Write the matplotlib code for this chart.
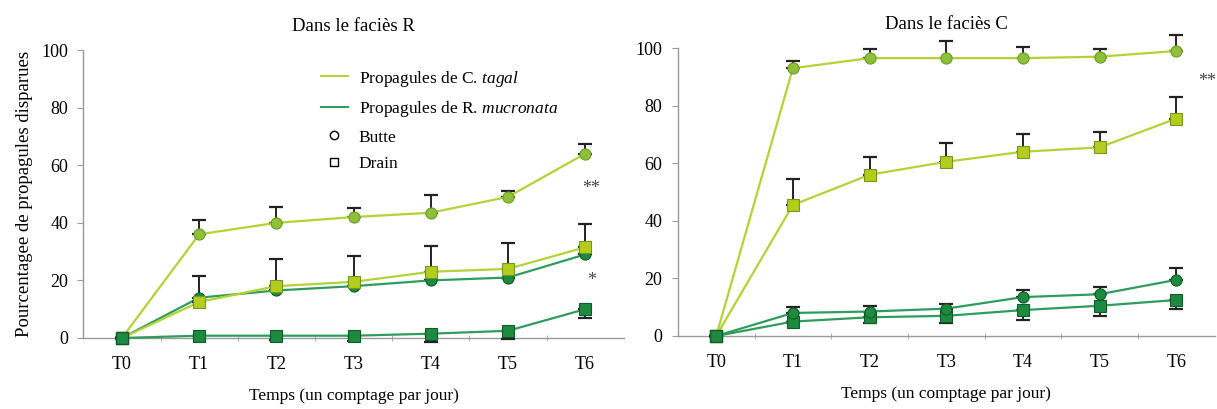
import matplotlib
matplotlib.use("Agg")
import matplotlib.pyplot as plt
from matplotlib.lines import Line2D
import numpy as np

plt.rcParams['font.family'] = ['Liberation Serif', 'DejaVu Serif']
plt.rcParams['mathtext.fontset'] = 'custom'
plt.rcParams['mathtext.rm'] = 'Liberation Serif'
plt.rcParams['mathtext.it'] = 'Liberation Serif:italic'

times = ["T0", "T1", "T2", "T3", "T4", "T5", "T6"]

# Faciès R
R_tagal_butte = [0, 36, 40, 42, 43.5, 49, 64]
R_tagal_butte_err = [0, 5, 5.5, 3, 6, 2, 3.5]
R_tagal_drain = [0, 12.5, 18, 19.5, 23, 24, 31.5]
R_tagal_drain_err = [0, 0, 9.5, 9, 9, 9, 8]
R_mucro_butte = [0, 14, 16.5, 18, 20, 21, 29]
R_mucro_butte_err = [0, 7.5, 0, 0, 0, 0, 0]
R_mucro_drain = [0, 0.8, 0.8, 0.8, 1.5, 2.5, 10]
R_mucro_drain_err = [0, 0, 1.5, 2, 3, 3, 3]

# Faciès C
C_tagal_butte = [0, 93, 96.5, 96.5, 96.5, 97, 99]
C_tagal_butte_err = [0, 2.5, 3, 6, 4, 2.5, 5.5]
C_tagal_drain = [0, 45.5, 56, 60.5, 64, 65.5, 75.5]
C_tagal_drain_err = [0, 9, 6, 6.5, 6, 5.5, 7.5]
C_mucro_butte = [0, 8, 8.5, 9.5, 13.5, 14.5, 19.5]
C_mucro_butte_err = [0, 2, 2, 1.5, 2.5, 2.5, 4]
C_mucro_drain = [0, 5, 6.5, 7, 9, 10.5, 12.5]
C_mucro_drain_err = [0, 0, 2, 2.5, 3.5, 3.5, 3]

light_line = '#b2d235'
light_face_c = '#8fc03a'
light_face_s = '#b5cc1c'
light_edge = '#6f9a22'
dark_line = '#2f9c5e'
dark_face = '#1d8a40'
dark_edge = '#0e5a28'

fig = plt.figure(figsize=(12.17, 4.09), dpi=100)
axL = fig.add_axes([0.0685, 0.1736, 0.444, 0.704])
axR = fig.add_axes([0.557, 0.1785, 0.441, 0.704])

x = np.arange(len(times))


def draw(ax, series):
    for vals, err, up, color, face, marker, z in series:
        vals = np.array(vals, float)
        err = np.array(err, float)
        yerr = [np.zeros_like(err), err] if up else [err, np.zeros_like(err)]
        ax.errorbar(x, vals, yerr=yerr, fmt='none', ecolor='#222222',
                    elinewidth=1.4, capsize=5, capthick=1.6, zorder=z - 1,
                    clip_on=False)
        ax.plot(x, vals, '-', color=color, lw=1.6, zorder=z, clip_on=False)
        ax.plot(x, vals, marker, ms=8, mfc=face, mec=dark_edge if face == dark_face else light_edge,
                mew=0.8, ls='none', zorder=z + 0.5, clip_on=False)


def style(ax, title):
    ax.set_xlim(-0.5, 6.5)
    ax.set_ylim(0, 100)
    for s in ['top', 'right']:
        ax.spines[s].set_visible(False)
    for s in ['left', 'bottom']:
        ax.spines[s].set_color('#999999')
        ax.spines[s].set_linewidth(1.0)
    ax.set_xticks(x)
    ax.set_xticklabels(times, fontsize=13)
    ax.set_xticks(np.arange(0.5, 6.5, 1), minor=True)
    ax.tick_params(axis='x', which='major', length=0, pad=13)
    ax.tick_params(axis='x', which='minor', length=5, color='#999999', direction='inout')
    ax.set_yticks([0, 20, 40, 60, 80, 100])
    ax.tick_params(axis='y', length=4, color='#999999', labelsize=13, pad=7)
    ax.set_xlabel("Temps (un comptage par jour)", fontsize=12.5, labelpad=11)
    ax.set_title(title, fontsize=13.5, pad=14)


draw(axL, [
    (R_mucro_drain, R_mucro_drain_err, False, dark_line, dark_face, 's', 4),
    (R_mucro_butte, R_mucro_butte_err, True, dark_line, dark_face, 'o', 6),
    (R_tagal_drain, R_tagal_drain_err, True, light_line, light_face_s, 's', 8),
    (R_tagal_butte, R_tagal_butte_err, True, light_line, light_face_c, 'o', 10),
])
axL.plot([0], [0], 's', ms=8, mfc=dark_face, mec=dark_edge, zorder=20, clip_on=False)
style(axL, "Dans le faciès R")
axL.set_ylabel("Pourcentagee de propagules disparues", fontsize=13.5, labelpad=6)
axL.text(6.08, 52, "**", ha='center', va='center', fontsize=13, color='#444444')
axL.text(6.08, 20, "*", ha='center', va='center', fontsize=13, color='#444444')

handles = [
    Line2D([], [], color=light_line, lw=1.5),
    Line2D([], [], color=dark_line, lw=1.5),
    Line2D([], [], ls='none', marker='o', mfc='white', mec='black', ms=6),
    Line2D([], [], ls='none', marker='s', mfc='white', mec='black', ms=6),
]
labels = [r"Propagules de C. $\mathit{tagal}$",
          r"Propagules de R. $\mathit{mucronata}$",
          "Butte", "Drain"]
axL.legend(handles, labels, loc='upper left', bbox_to_anchor=(0.41, 0.99),
           frameon=False, fontsize=12.5, handlelength=1.6, labelspacing=0.6,
           handletextpad=0.6)

draw(axR, [
    (C_mucro_drain, C_mucro_drain_err, False, dark_line, dark_face, 's', 4),
    (C_mucro_butte, C_mucro_butte_err, True, dark_line, dark_face, 'o', 6),
    (C_tagal_drain, C_tagal_drain_err, True, light_line, light_face_s, 's', 8),
    (C_tagal_butte, C_tagal_butte_err, True, light_line, light_face_c, 'o', 10),
])
axR.plot([0], [0], 's', ms=8, mfc=dark_face, mec=dark_edge, zorder=20, clip_on=False)
style(axR, "Dans le faciès C")
axR.text(6.4, 88.5, "**", ha='center', va='center', fontsize=13, color='#444444',
         clip_on=False)

fig.savefig("out.png", dpi=100, facecolor='white')
